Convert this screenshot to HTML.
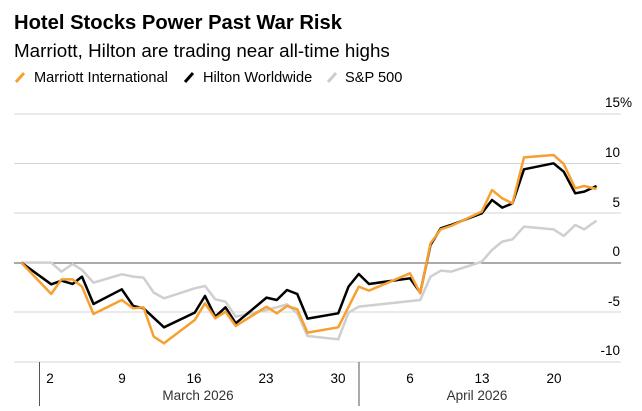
<!DOCTYPE html>
<html><head><meta charset="utf-8"><style>
html,body{margin:0;padding:0;background:#fff;}
body{width:642px;height:406px;overflow:hidden;font-family:"Liberation Sans",sans-serif;}
</style></head><body>
<svg width="642" height="406" viewBox="0 0 642 406" xmlns="http://www.w3.org/2000/svg" font-family="Liberation Sans, sans-serif">
<text x="14" y="29" font-size="20.2" font-weight="bold" fill="#000">Hotel Stocks Power Past War Risk</text>
<text x="14" y="57" font-size="18.8" fill="#000">Marriott, Hilton are trading near all-time highs</text>
<g font-size="14.6" fill="#000">
<line x1="16" y1="82" x2="24" y2="73" stroke="#f7a030" stroke-width="3"/>
<text x="34" y="82">Marriott International</text>
<line x1="185" y1="82" x2="193" y2="73" stroke="#000" stroke-width="3"/>
<text x="203" y="82">Hilton Worldwide</text>
<line x1="328" y1="82" x2="336" y2="73" stroke="#ccc" stroke-width="3"/>
<text x="345" y="82">S&amp;P 500</text>
</g>
<g stroke="#d6d6d6" stroke-width="1">
<line x1="14" y1="114" x2="621" y2="114"/>
<line x1="14" y1="163.5" x2="621" y2="163.5"/>
<line x1="14" y1="213" x2="621" y2="213"/>
<line x1="14" y1="312" x2="621" y2="312"/>
<line x1="14" y1="362" x2="621" y2="362"/>
</g>
<line x1="14" y1="263" x2="621" y2="263" stroke="#555" stroke-width="1"/>
<g font-size="13.5" fill="#000" text-anchor="end">
<text x="632" y="107">15%</text>
<text x="620" y="157">10</text>
<text x="620" y="207">5</text>
<text x="620" y="256">0</text>
<text x="620" y="306">-5</text>
<text x="620" y="355">-10</text>
</g>
<g stroke="#888" stroke-width="1" id="ticks"></g>
<g font-size="13.5" fill="#000" text-anchor="middle">
<text x="50" y="383">2</text><text x="122" y="383">9</text><text x="194" y="383">16</text><text x="266" y="383">23</text><text x="338" y="383">30</text><text x="410" y="383">6</text><text x="482" y="383">13</text><text x="554" y="383">20</text>
<text x="198" y="400" fill="#333">March 2026</text>
<text x="477" y="400" fill="#333">April 2026</text>
</g>
<line x1="39.5" y1="362" x2="39.5" y2="406" stroke="#555"/>
<line x1="359" y1="362" x2="359" y2="406" stroke="#555"/>
<g transform="translate(0,90) scale(0.41,0.3333)" fill="none" stroke-linejoin="round">
<polyline vector-effect="non-scaling-stroke" stroke="#cfcfcf" stroke-width="2.5" points="52,518 125,518 150,545 177,522 200,540 228,578 297,553 325,560 350,563 375,608 400,625 475,595 500,588 525,628 550,635 575,680 650,660 675,652 700,643 725,670 750,738 825,748 850,668 875,650 1025,630 1050,560 1075,542 1100,545 1175,515 1200,480 1225,455 1250,448 1278,410 1350,418 1375,438 1403,405 1425,418 1455,392"/>
<polyline vector-effect="non-scaling-stroke" stroke="#000" stroke-width="2.5" points="52,518 125,583 150,572 177,582 200,560 228,642 297,598 325,648 350,655 400,712 475,668 500,618 525,680 550,652 575,700 650,623 675,630 700,600 725,612 750,686 825,670 850,590 875,552 900,582 1000,565 1025,608 1050,465 1075,415 1100,405 1175,370 1200,330 1225,353 1250,340 1278,238 1350,220 1375,245 1403,310 1425,305 1455,288"/>
<polyline vector-effect="non-scaling-stroke" stroke="#f7a030" stroke-width="2.5" points="52,518 125,612 150,568 177,568 200,590 228,672 297,630 325,655 350,652 375,740 400,760 475,690 500,640 525,685 550,665 575,708 650,650 675,670 700,648 725,658 750,728 825,712 875,590 900,602 1000,550 1025,610 1050,460 1075,418 1100,408 1175,365 1200,300 1225,325 1250,340 1278,202 1350,195 1375,222 1403,295 1425,288 1455,297"/>
</g>
<script>
var g=document.getElementById('ticks'),s='';
for(var d=-4;d<=56;d++){var x=49.6+d*10.33;if(x<14||x>621)continue;var mj=(d%7==0);s+='<line x1="'+x+'" y1="362" x2="'+x+'" y2="'+(mj?370:366)+'"/>';}
g.innerHTML=s;
</script>
</svg>
</body></html>
